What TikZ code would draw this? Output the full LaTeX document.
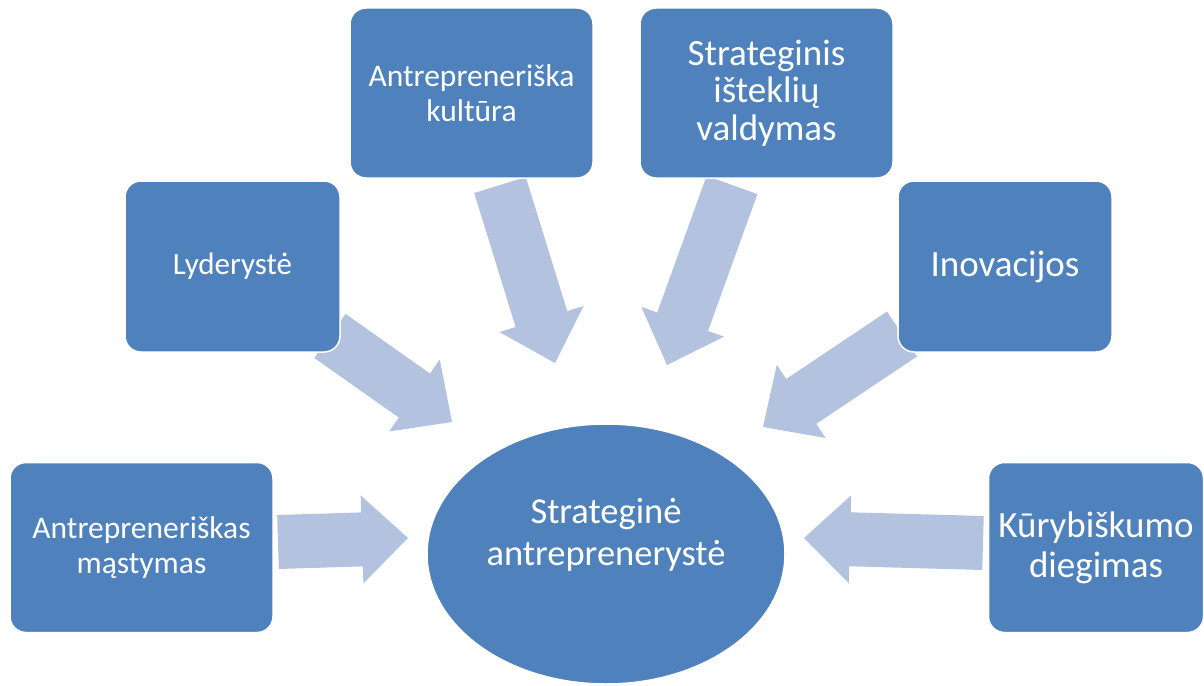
\documentclass[tikz,border=0pt]{standalone}
\usepackage{fontspec}
\setmainfont{Carlito}
\usetikzlibrary{calc,shapes.geometric}
\definecolor{boxblue}{HTML}{4F81BD}
\definecolor{arrowblue}{HTML}{B3C2DE}
\tikzset{
  box/.style={draw=white, line width=1.5pt, fill=boxblue, rounded corners=16pt,
    text=white, align=center, inner sep=0pt},
  hub/.style={ellipse, draw=white, line width=1.5pt, fill=boxblue, inner sep=0pt},
  hubtext/.style={text=white, align=center, inner sep=0pt,
    font=\fontsize{36.5}{41.5}\selectfont},
  smalltxt/.style={font=\fontsize{31.5}{34.5}\selectfont},
  bigtxt/.style={font=\fontsize{37}{37.5}\selectfont},
  bigarrow/.style={fill=arrowblue, draw=none},
}
\newcommand\blockarrow[3]{% name, start, tip
  \coordinate (#1h) at ($(#3)!46pt!(#2)$);
  \fill[bigarrow] ($(#2)!27pt!90:(#3)$) -- ($(#1h)!27pt!90:(#3)$) -- ($(#1h)!44pt!90:(#3)$)
    -- (#3) -- ($(#1h)!44pt!-90:(#3)$) -- ($(#1h)!27pt!-90:(#3)$) -- ($(#2)!27pt!-90:(#3)$) -- cycle;
}
\begin{document}
\begin{tikzpicture}[x=1pt,y=-1pt]
\useasboundingbox (0,0) rectangle (1204,685);
% arrow end points
\coordinate (a1s) at (278,542); \coordinate (a1t) at (408,538);
\coordinate (a2s) at (330,336); \coordinate (a2t) at (452,422);
\coordinate (a3s) at (500,185); \coordinate (a3t) at (555,363);
\coordinate (a4s) at (732,185); \coordinate (a4t) at (667,365);
\coordinate (a5s) at (902,334); \coordinate (a5t) at (763,427);
\coordinate (a6s) at (983,543); \coordinate (a6t) at (804,538);
\blockarrow{a1}{a1s}{a1t}
\blockarrow{a2}{a2s}{a2t}
\blockarrow{a3}{a3s}{a3t}
\blockarrow{a4}{a4s}{a4t}
\blockarrow{a5}{a5s}{a5t}
\blockarrow{a6}{a6s}{a6t}
% boxes
\node[box, smalltxt, minimum width=263pt, minimum height=170pt] (mast) at (141.5,547.5) {Antrepreneriškas\\mąstymas};
\node[box, font=\fontsize{31}{34}\selectfont, minimum width=215pt, minimum height=171pt] (lyd) at (232.5,266.5) {Lyderystė};
\node[box, smalltxt, minimum width=243pt, minimum height=170pt] (kult) at (471.5,93) {Antrepreneriška\\kultūra};
\node[box, bigtxt, minimum width=253pt, minimum height=170pt] (strat) at (766.5,93) {Strateginis\\išteklių\\valdymas};
\node[box, bigtxt, minimum width=214pt, minimum height=171pt] (inov) at (1005,266.5) {Inovacijos};
\node[box, font=\fontsize{37}{40}\selectfont, minimum width=215pt, minimum height=170pt] (kur) at (1096,547.5) {Kūrybiškumo\\diegimas};
% hub
\node[hub, minimum width=358pt, minimum height=260pt] (hub) at (606,554) {};
\node[hubtext] (hubt) at (606,535) {Strateginė\\antrepreneryst\char"0117};
\end{tikzpicture}
\end{document}
